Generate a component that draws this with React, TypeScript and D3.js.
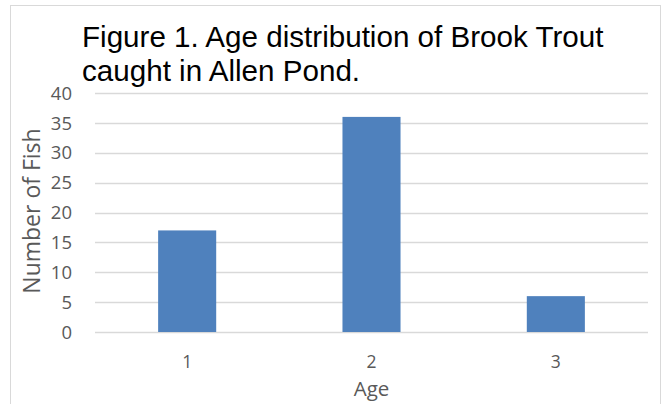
import React, { useEffect, useRef } from 'react';
import * as d3 from 'd3';

const ages = ['1', '2', '3'];
const fishCounts = [17, 36, 6];
const yTicks = [0, 5, 10, 15, 20, 25, 30, 35, 40];
const titleLines = ['Figure 1. Age distribution of Brook Trout', 'caught in Allen Pond.'];

const App: React.FC = () => {
  const svgRef = useRef<SVGSVGElement | null>(null);

  useEffect(() => {
    if (!svgRef.current) return;
    const width = 663;
    const height = 404;
    const svg = d3.select(svgRef.current);
    svg.selectAll('*').remove();
    svg.attr('width', width).attr('height', height);

    const left = 95;
    const right = 648;
    const top = 93;
    const bottom = 332;
    const axisFont = "'Open Sans', 'DejaVu Sans', sans-serif";

    // chart frame
    svg
      .append('rect')
      .attr('x', 10.5)
      .attr('y', 5.5)
      .attr('width', 650)
      .attr('height', 420)
      .attr('fill', '#fff')
      .attr('stroke', '#d9d9d9')
      .attr('stroke-width', 1);

    const x = d3.scaleBand<string>().domain(ages).range([left, right]).paddingInner(0.685).paddingOuter(0.3425);
    const y = d3.scaleLinear().domain([0, 40]).range([bottom, top]);

    // gridlines
    svg
      .append('g')
      .selectAll('line')
      .data(yTicks)
      .enter()
      .append('line')
      .attr('x1', left)
      .attr('x2', right)
      .attr('y1', (d) => Math.round(y(d)) + 0.5)
      .attr('y2', (d) => Math.round(y(d)) + 0.5)
      .attr('stroke', '#d9d9d9')
      .attr('stroke-width', 1.5);

    // bars
    svg
      .append('g')
      .selectAll('rect')
      .data(fishCounts)
      .enter()
      .append('rect')
      .attr('x', (_, i) => x(ages[i]) as number)
      .attr('y', (d) => y(d))
      .attr('width', x.bandwidth())
      .attr('height', (d) => bottom - y(d))
      .attr('fill', '#4f81bd');

    // y tick labels
    svg
      .append('g')
      .selectAll('text')
      .data(yTicks)
      .enter()
      .append('text')
      .attr('x', 72)
      .attr('y', (d) => y(d))
      .attr('dy', '0.36em')
      .attr('text-anchor', 'end')
      .style('font-family', axisFont)
      .style('font-size', '18.5px')
      .attr('fill', '#595959')
      .text((d) => d);

    // x tick labels
    svg
      .append('g')
      .selectAll('text')
      .data(ages)
      .enter()
      .append('text')
      .attr('x', (d) => (x(d) as number) + x.bandwidth() / 2)
      .attr('y', 368)
      .attr('text-anchor', 'middle')
      .style('font-family', axisFont)
      .style('font-size', '17.5px')
      .attr('fill', '#595959')
      .text((d) => d);

    // axis titles
    svg
      .append('text')
      .attr('x', (left + right) / 2 - 0)
      .attr('y', 395.5)
      .attr('text-anchor', 'middle')
      .style('font-family', axisFont)
      .style('font-size', '20.5px')
      .attr('fill', '#595959')
      .text('Age');

    svg
      .append('text')
      .attr('transform', `translate(40, 211) rotate(-90)`)
      .attr('text-anchor', 'middle')
      .style('font-family', axisFont)
      .style('font-size', '23px')
      .attr('fill', '#595959')
      .text('Number of Fish');

    // title
    svg
      .append('g')
      .selectAll('text')
      .data(titleLines)
      .enter()
      .append('text')
      .attr('x', 82)
      .attr('y', (_, i) => 47 + i * 34)
      .style('font-family', "'Liberation Sans', Arial, sans-serif")
      .style('font-size', '29.6px')
      .attr('fill', '#000')
      .text((d) => d);
  }, []);

  return (
    <div style={{ position: 'absolute', left: 0, top: 0 }}>
      <svg ref={svgRef}></svg>
    </div>
  );
};

export default App;
